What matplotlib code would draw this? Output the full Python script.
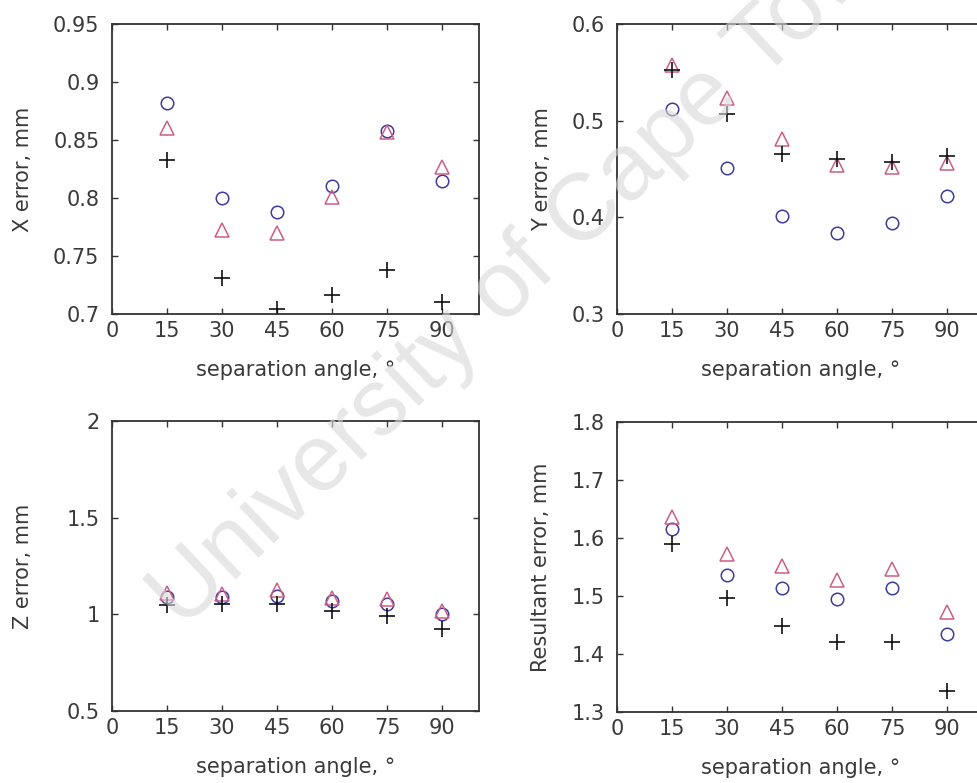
import matplotlib
matplotlib.use("Agg")
import matplotlib.pyplot as plt
from matplotlib.ticker import FixedLocator, FixedFormatter

plt.rcParams['font.family'] = ['DejaVu Sans']

angles = [15, 30, 45, 60, 75, 90]
xticks = [0, 15, 30, 45, 60, 75, 90]

x_circle = [0.882, 0.800, 0.788, 0.810, 0.858, 0.815]
x_triangle = [0.860, 0.772, 0.770, 0.801, 0.857, 0.827]
x_plus = [0.833, 0.731, 0.704, 0.716, 0.738, 0.710]

y_circle = [0.512, 0.451, 0.401, 0.384, 0.394, 0.422]
y_triangle = [0.558, 0.523, 0.481, 0.454, 0.452, 0.456]
y_plus = [0.552, 0.507, 0.466, 0.460, 0.457, 0.463]

z_circle = [1.09, 1.09, 1.095, 1.07, 1.056, 1.0]
z_triangle = [1.11, 1.105, 1.125, 1.087, 1.078, 1.017]
z_plus = [1.05, 1.055, 1.052, 1.017, 0.99, 0.922]

r_circle = [1.615, 1.536, 1.514, 1.494, 1.514, 1.435]
r_triangle = [1.637, 1.573, 1.551, 1.527, 1.547, 1.472]
r_plus = [1.590, 1.497, 1.449, 1.420, 1.420, 1.336]

x_yticks = [0.7, 0.75, 0.8, 0.85, 0.9, 0.95]
x_yticklabels = ['0.7', '0.75', '0.8', '0.85', '0.9', '0.95']
y_yticks = [0.3, 0.4, 0.5, 0.6]
y_yticklabels = ['0.3', '0.4', '0.5', '0.6']
z_yticks = [0.5, 1.0, 1.5, 2.0]
z_yticklabels = ['0.5', '1', '1.5', '2']
r_yticks = [1.3, 1.4, 1.5, 1.6, 1.7, 1.8]
r_yticklabels = ['1.3', '1.4', '1.5', '1.6', '1.7', '1.8']

W, H = 977, 783
fig = plt.figure(figsize=(W / 100, H / 100), dpi=100)

text_color = '#3a3a3a'
circle_color = '#3c3c9c'
tri_color = '#cc5f86'
plus_color = '#111111'


def make_ax(left, top, yl, yticks, yticklabels, ylabel, ylabel_x):
    width, height = 367, 290
    ax = fig.add_axes([left / W, (H - top - height) / H, width / W, height / H])
    ax.set_xlim(0, 100)
    ax.set_ylim(yl)
    ax.xaxis.set_major_locator(FixedLocator(xticks))
    ax.xaxis.set_major_formatter(FixedFormatter([str(t) for t in xticks]))
    ax.yaxis.set_major_locator(FixedLocator(yticks))
    ax.yaxis.set_major_formatter(FixedFormatter(yticklabels))
    ax.tick_params(direction='in', length=4, width=1, colors='#333333',
                   top=True, right=True, labelsize=15, labelcolor=text_color)
    ax.tick_params(axis='y', pad=9)
    ax.tick_params(axis='x', pad=5)
    for s in ax.spines.values():
        s.set_linewidth(1.3)
        s.set_color('#333333')
    ax.set_xlabel('separation angle, °', fontsize=15, color=text_color)
    ax.xaxis.set_label_coords(0.5, -0.16)
    ax.set_ylabel(ylabel, fontsize=15, color=text_color)
    ax.yaxis.set_label_coords(ylabel_x, 0.5)
    return ax


def plot_series(ax, c, t, p):
    ax.plot(angles, c, linestyle='none', marker='o', markersize=9,
            markerfacecolor='none', markeredgecolor=circle_color, markeredgewidth=1.1)
    ax.plot(angles, t, linestyle='none', marker='^', markersize=10,
            markerfacecolor='none', markeredgecolor=tri_color, markeredgewidth=1.1)
    ax.plot(angles, p, linestyle='none', marker='+', markersize=12,
            markeredgecolor=plus_color, markeredgewidth=1.2)


ax1 = make_ax(112, 24, (0.7, 0.95), x_yticks, x_yticklabels, 'X error, mm', -0.215)
plot_series(ax1, x_circle, x_triangle, x_plus)

ax2 = make_ax(617, 24, (0.3, 0.6), y_yticks, y_yticklabels, 'Y error, mm', -0.178)
plot_series(ax2, y_circle, y_triangle, y_plus)

ax3 = make_ax(112, 421, (0.5, 2.0), z_yticks, z_yticklabels, 'Z error, mm', -0.215)
plot_series(ax3, z_circle, z_triangle, z_plus)

ax4 = make_ax(617, 422, (1.3, 1.8), r_yticks, r_yticklabels, 'Resultant error, mm', -0.18)
plot_series(ax4, r_circle, r_triangle, r_plus)

fig.text(534 / W, 1 - 263 / H, 'University of Cape Town', fontsize=68,
         family=['Liberation Sans', 'DejaVu Sans'],
         color='#d8d8d8', alpha=0.6, rotation=43.5, ha='center', va='center',
         rotation_mode='anchor', zorder=10)

fig.savefig('out.png', dpi=100)
